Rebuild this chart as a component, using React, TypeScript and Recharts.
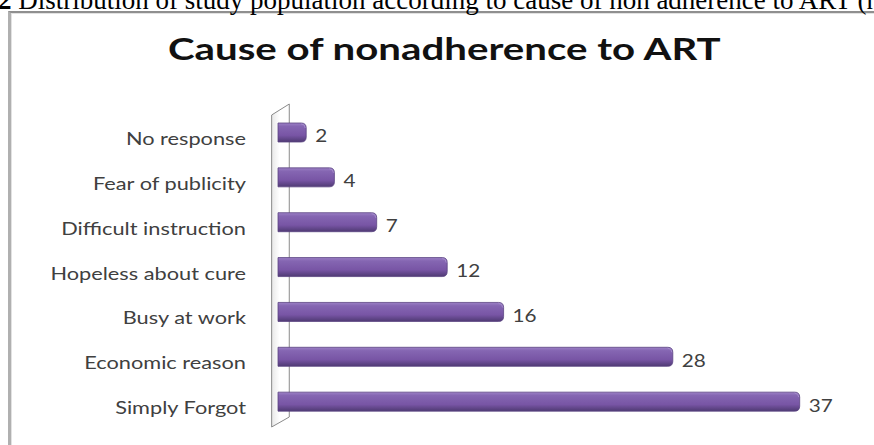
import React from "react";
import { BarChart, Bar, XAxis, YAxis, LabelList, ReferenceArea } from "recharts";

const causes = [
  "No response",
  "Fear of publicity",
  "Difficult instruction",
  "Hopeless about cure",
  "Busy at work",
  "Economic reason",
  "Simply Forgot",
];
const counts = [2, 4, 7, 12, 16, 28, 37];
const xDomain = [0, 40];

const chartTitle = "Cause of nonadherence to ART";
const captionLead = "2";
const captionText = " Distribution of study population according to cause of non adherence to ART (n";

const data = causes.map((cause, i) => ({ cause, count: counts[i] }));

const FONT = "Lato, 'Open Sans', sans-serif";

const BarShape = (props: any) => {
  const { x, y, width, height } = props;
  if (!width || width <= 0) return null;
  const r = 5;
  const w = width;
  const d = `M${x},${y} L${x + w - r},${y} Q${x + w},${y} ${x + w},${y + r} L${x + w},${y + height - r} Q${x + w},${y + height} ${x + w - r},${y + height} L${x},${y + height} Z`;
  return (
    <g>
      <path d={d} fill="url(#barGrad)" stroke="#5b4482" strokeWidth={0.8} />
      <path
        d={`M${x + w - r},${y + 1} Q${x + w - 1},${y + 1} ${x + w - 1},${y + r}`}
        fill="none"
        stroke="#a48bcb"
        strokeWidth={1}
      />
    </g>
  );
};

const WallShape = (props: any) => {
  const { x, y, width, height } = props;
  const x1 = x;
  const x2 = x + width;
  const pts = `${x1},${y + 5} ${x2},${y - 6} ${x2},${y + height - 7} ${x1},${y + height + 3}`;
  return (
    <g>
      <polygon points={pts} fill="url(#wallGrad)" stroke="#8a8a8a" strokeWidth={1} />
    </g>
  );
};

const CategoryTick = (props: any) => {
  const { x, y, payload } = props;
  return (
    <text
      x={x}
      y={y + 6}
      textAnchor="end"
      dominantBaseline="central"
      fill="#404040"
      fontSize={17}
      fontFamily={FONT}
      transform={`translate(${x},0) scale(1.28,1) translate(${-x},0)`}
    >
      {payload.value}
    </text>
  );
};

const ValueLabel = (props: any) => {
  const { x, y, width, height, value } = props;
  const lx = x + width + 9;
  return (
    <text
      x={lx}
      y={y + height / 2 + 3}
      textAnchor="start"
      dominantBaseline="central"
      fill="#404040"
      fontSize={18}
      fontFamily={FONT}
      transform={`translate(${lx},0) scale(1.15,1) translate(${-lx},0)`}
    >
      {value}
    </text>
  );
};

export default function App() {
  return (
    <div
      style={{
        position: "absolute",
        left: 0,
        top: 0,
        width: 874,
        height: 445,
        overflow: "hidden",
        background: "#fff",
      }}
    >
      <div
        style={{
          position: "absolute",
          left: 8,
          top: 11,
          width: 900,
          height: 500,
          borderLeft: "3px solid #b0b0b0",
          borderTop: "2px solid #8f8f8f",
          boxShadow: "inset 1px 1px 0 #e2e2e2",
        }}
      />
      <div
        style={{
          position: "absolute",
          left: -2,
          top: -15,
          whiteSpace: "nowrap",
          fontFamily: "'Liberation Serif', 'Times New Roman', serif",
          fontSize: 27,
          color: "#000",
          lineHeight: "normal",
        }}
      >
        <b>{captionLead}</b>
        {captionText}
      </div>
      <div
        style={{
          position: "absolute",
          left: 168,
          top: 30,
          whiteSpace: "nowrap",
          fontFamily: FONT,
          fontWeight: 700,
          fontSize: 30,
          color: "#111",
          lineHeight: "normal",
          transform: "scaleX(1.34)",
          transformOrigin: "0 0",
        }}
      >
        {chartTitle}
      </div>
      <div style={{ position: "absolute", left: 0, top: 0 }}>
        <BarChart
          width={874}
          height={445}
          layout="vertical"
          data={data}
          margin={{ top: 110, right: 32, bottom: 21, left: 0 }}
          barSize={19}
        >
          <defs>
            <linearGradient id="barGrad" x1="0" y1="0" x2="0" y2="1">
              <stop offset="0%" stopColor="#9c80c6" />
              <stop offset="18%" stopColor="#8566b2" />
              <stop offset="65%" stopColor="#7855a5" />
              <stop offset="100%" stopColor="#4f3a73" />
            </linearGradient>
            <linearGradient id="wallGrad" x1="0" y1="0" x2="1" y2="0">
              <stop offset="0%" stopColor="#e8e8e8" />
              <stop offset="45%" stopColor="#ffffff" />
              <stop offset="100%" stopColor="#ffffff" />
            </linearGradient>
          </defs>
          <XAxis type="number" domain={xDomain} hide />
          <YAxis
            type="category"
            dataKey="cause"
            width={278}
            interval={0}
            tickLine={false}
            axisLine={false}
            tickSize={0}
            tickMargin={32}
            tick={<CategoryTick />}
          />
          <ReferenceArea
            x1={-0.45}
            x2={0.8}
            ifOverflow="visible"
            shape={WallShape}
          />
          <Bar dataKey="count" isAnimationActive={false} shape={BarShape}>
            <LabelList dataKey="count" content={<ValueLabel />} />
          </Bar>
        </BarChart>
      </div>
    </div>
  );
}
